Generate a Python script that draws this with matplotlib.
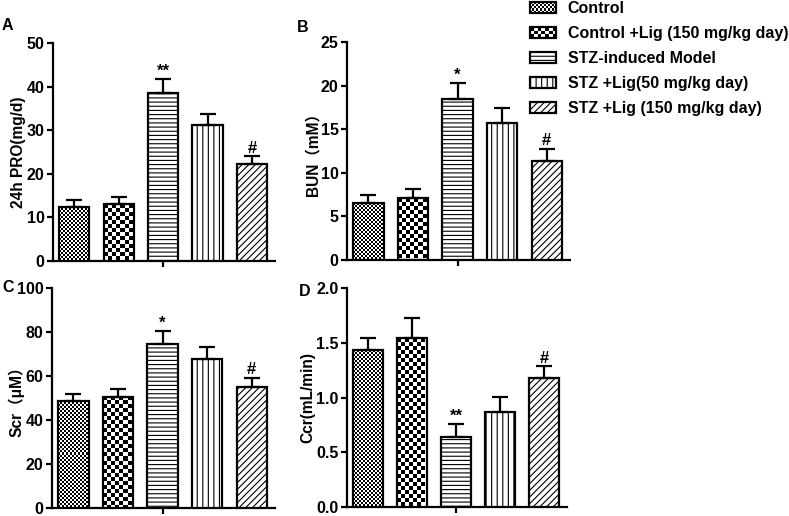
import numpy as np
import matplotlib
matplotlib.use("Agg")
import matplotlib.pyplot as plt
from matplotlib.patches import Rectangle, Patch
from matplotlib.legend_handler import HandlerBase

plt.rcParams['font.family'] = ['Liberation Sans', 'Noto Sans CJK SC', 'DejaVu Sans']
plt.rcParams['font.weight'] = 'bold'
plt.rcParams['hatch.linewidth'] = 0.8

groups = ["Control", "Control +Lig (150 mg/kg day)", "STZ-induced Model",
          "STZ +Lig(50 mg/kg day)", "STZ +Lig (150 mg/kg day)"]

pro_mean = [12.5, 13.1, 38.5, 31.1, 22.3]
pro_err = [1.5, 1.5, 3.2, 2.6, 1.7]
pro_sig = ["", "", "**", "", "#"]

bun_mean = [6.5, 7.1, 18.45, 15.7, 11.4]
bun_err = [1.0, 1.05, 1.85, 1.7, 1.35]
bun_sig = ["", "", "*", "", "#"]

scr_mean = [48.6, 50.5, 74.5, 67.6, 54.8]
scr_err = [3.1, 3.4, 5.8, 5.4, 4.4]
scr_sig = ["", "", "*", "", "#"]

ccr_mean = [1.43, 1.546, 0.642, 0.868, 1.178]
ccr_err = [0.115, 0.177, 0.113, 0.137, 0.107]
ccr_sig = ["", "", "**", "", "#"]

panels = [
    ("A", "24h PRO(mg/d)", pro_mean, pro_err, pro_sig, 50, [0, 10, 20, 30, 40, 50], None),
    ("B", "BUN（mM）", bun_mean, bun_err, bun_sig, 25, [0, 5, 10, 15, 20, 25], None),
    ("C", "Scr（μM）", scr_mean, scr_err, scr_sig, 100, [0, 20, 40, 60, 80, 100], None),
    ("D", "Ccr(mL/min)", ccr_mean, ccr_err, ccr_sig, 2.0, [0.0, 0.5, 1.0, 1.5, 2.0], "%.1f"),
]

styles = [("checker", 2), ("checker", 4), ("hatch", "----"), ("hatch", "|||"), ("hatch", "/////")]

W, H = 789, 516
fig = plt.figure(figsize=(W / 100, H / 100), dpi=100)

rects_px = {
    "A": (53, 43, 275, 261),
    "B": (347, 42, 570, 260),
    "C": (52, 288, 275, 508),
    "D": (347, 288, 567, 507),
}
label_x_px = {"A": 26, "B": 320, "C": 25, "D": 315}
letter_pos = {"A": (2, 26), "B": (297, 27), "C": (2, 288), "D": (299, 292)}

bw = 0.68
xs = np.arange(len(groups))


def checker(nx, ny):
    i, j = np.meshgrid(np.arange(nx), np.arange(ny))
    return ((i + j) % 2).astype(float)


for letter, ylabel, mean, err, sig, ymax, yticks, fmt in panels:
    l, t, r, b = rects_px[letter]
    ax = fig.add_axes([l / W, 1 - b / H, (r - l) / W, (b - t) / H])
    ax.set_xlim(-0.48, 4.52)
    ax.set_ylim(0, ymax)
    ax_wpx = r - l
    ax_hpx = b - t
    for k, (x, m) in enumerate(zip(xs, mean)):
        kind, p = styles[k]
        if kind == "hatch":
            ax.bar(x, m, width=bw, facecolor="white", edgecolor="black",
                   linewidth=1.6, hatch=p, zorder=3)
        else:
            bars = ax.bar(x, m, width=bw, facecolor="none", edgecolor="black",
                          linewidth=1.6, zorder=4)
            bar = bars[0]
            wpx = bw / 5.0 * ax_wpx
            hpx = m / ymax * ax_hpx
            nx = max(1, int(round(wpx / p)))
            ny = max(1, int(round(hpx / p)))
            im = ax.imshow(checker(nx, ny), cmap="gray", vmin=0, vmax=1,
                           extent=[x - bw / 2, x - bw / 2 + nx * p * 5.0 / ax_wpx,
                                   m - ny * p * ymax / ax_hpx, m],
                           origin="upper", interpolation="nearest",
                           aspect="auto", zorder=3)
            im.set_clip_path(bar)
    ax.errorbar(xs, mean, yerr=[np.zeros(len(err)), err], fmt="none",
                ecolor="black", elinewidth=1.6, capsize=5.5, capthick=1.6, zorder=5)
    for x, m, e, s in zip(xs, mean, err, sig):
        if s:
            ax.annotate(s, (x, m + e), xytext=(0, 0.5), textcoords="offset points",
                        ha="center", va="bottom", fontsize=12, fontweight="bold")
    ax.set_xlim(-0.48, 4.52)
    ax.set_ylim(0, ymax)
    ax.set_yticks(yticks)
    if fmt:
        ax.set_yticklabels([fmt % v for v in yticks])
    ax.set_xticks([2])
    ax.set_xticklabels([""])
    for s in ["top", "right"]:
        ax.spines[s].set_visible(False)
    for s in ["left", "bottom"]:
        ax.spines[s].set_linewidth(1.6)
    ax.tick_params(axis="both", direction="out", length=4.5, width=1.6, pad=1.5,
                   labelsize=11.5)
    for lab in ax.get_yticklabels():
        lab.set_fontweight("bold")
    ax.set_ylabel(ylabel, fontsize=11.2, fontweight="bold")
    ax.yaxis.set_label_coords((label_x_px[letter] - l) / (r - l), 0.5)
    fx, fy = letter_pos[letter]
    fig.text(fx / W, 1 - fy / H, letter, fontsize=11.5, fontweight="bold",
             ha="left", va="center")


class CheckerHandler(HandlerBase):
    def __init__(self, sq):
        super().__init__()
        self.sq = sq

    def create_artists(self, legend, orig_handle, xdescent, ydescent, width, height,
                       fontsize, trans):
        arts = []
        sq = self.sq * 72.0 / 100.0
        nx = max(1, int(round(width / sq)))
        ny = max(1, int(round(height / sq)))
        sx = width / nx
        sy = height / ny
        for i in range(nx):
            for j in range(ny):
                if (i + j) % 2 == 0:
                    arts.append(Rectangle((-xdescent + i * sx, -ydescent + j * sy), sx, sy,
                                          facecolor="black", edgecolor="none",
                                          transform=trans))
        arts.append(Rectangle((-xdescent, -ydescent), width, height, facecolor="none",
                              edgecolor="black", linewidth=1.6, transform=trans))
        return arts


handles = []
hmap = {}
for k, g in enumerate(groups):
    kind, p = styles[k]
    if kind == "hatch":
        h = Patch(facecolor="white", edgecolor="black", linewidth=1.6, hatch=p, label=g)
    else:
        h = Patch(facecolor="white", edgecolor="black", linewidth=1.6, label=g)
        hmap[h] = CheckerHandler(p)
    handles.append(h)

leg = fig.legend(handles=handles, loc="upper left",
                 bbox_to_anchor=(530 / W, 1 - 1 / H), frameon=False,
                 fontsize=11.5, handlelength=1.65, handleheight=0.65,
                 handletextpad=0.7, labelspacing=0.63, borderpad=0,
                 borderaxespad=0, handler_map=hmap)
for tx in leg.get_texts():
    tx.set_fontweight("bold")

fig.savefig("out.png", dpi=100)
